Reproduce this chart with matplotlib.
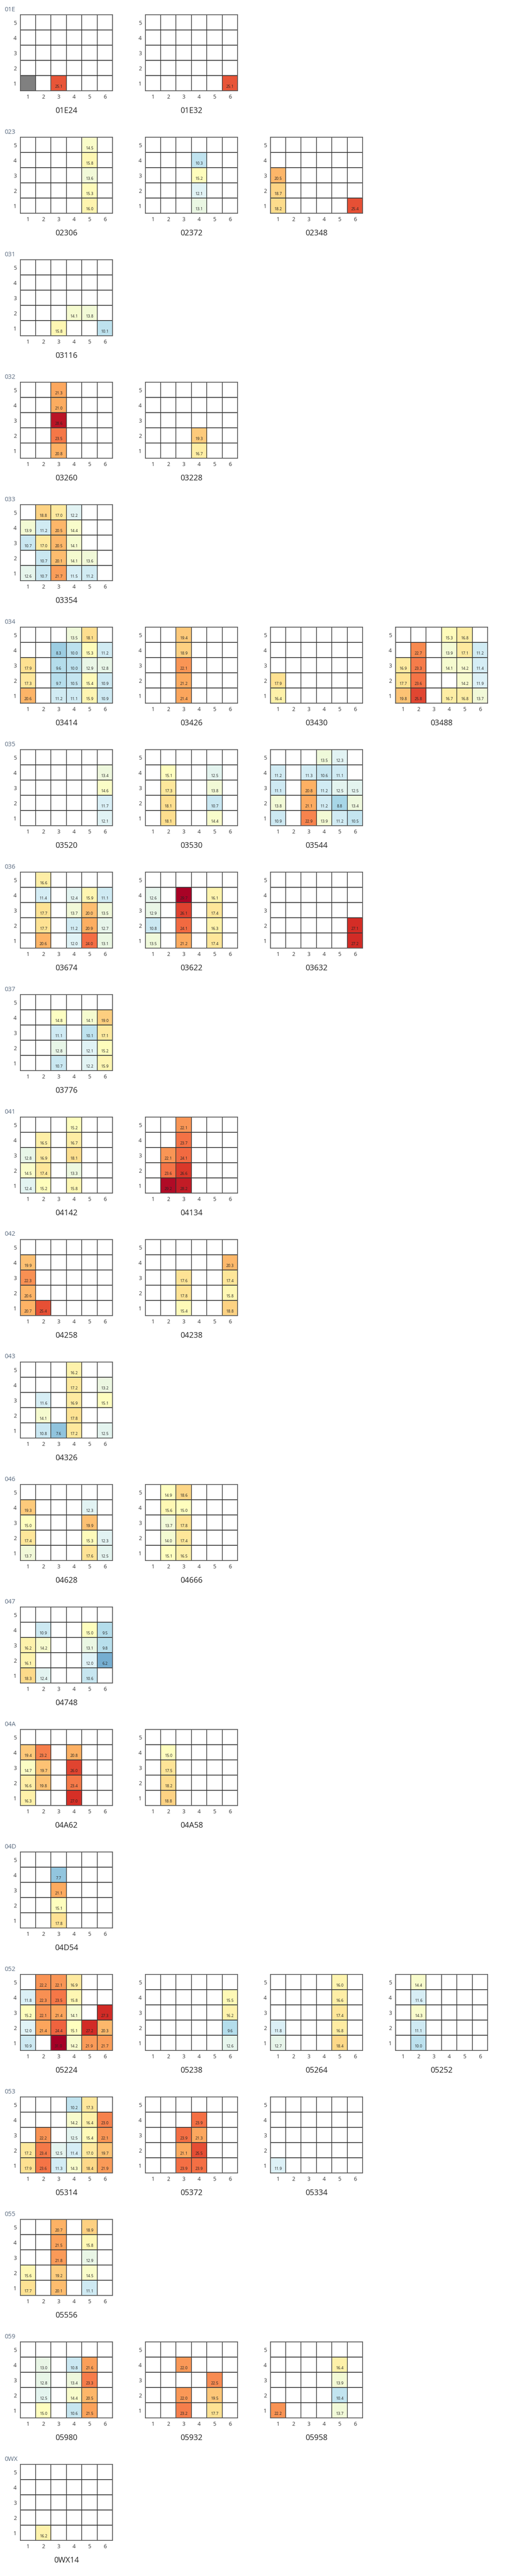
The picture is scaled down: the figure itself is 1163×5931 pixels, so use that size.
import numpy as np
import matplotlib.pyplot as plt
from matplotlib.colors import Normalize
from matplotlib.patches import Rectangle

plt.rcParams['font.family'] = ['Open Sans', 'DejaVu Sans']

_ = np.nan
E = [_] * 6

# group codes and the panels in each group
groups = ['01E', '023', '031', '032', '033', '034', '035', '036', '037', '041', '042',
          '043', '046', '047', '04A', '04D', '052', '053', '055', '059', '0WX']
panels = [
    ['01E24', '01E32'],
    ['02306', '02372', '02348'],
    ['03116'],
    ['03260', '03228'],
    ['03354'],
    ['03414', '03426', '03430', '03488'],
    ['03520', '03530', '03544'],
    ['03674', '03622', '03632'],
    ['03776'],
    ['04142', '04134'],
    ['04258', '04238'],
    ['04326'],
    ['04628', '04666'],
    ['04748'],
    ['04A62', '04A58'],
    ['04D54'],
    ['05224', '05238', '05264', '05252'],
    ['05314', '05372', '05334'],
    ['05556'],
    ['05980', '05932', '05958'],
    ['0WX14'],
]

# cell values per panel, rows 5 (top) down to 1, columns 1..6
v_01E24 = [E, E, E, E, [_, _, 25.1, _, _, _]]
v_01E32 = [E, E, E, E, [_, _, _, _, _, 25.1]]
v_02306 = [[_, _, _, _, 14.5, _], [_, _, _, _, 15.8, _], [_, _, _, _, 13.6, _],
           [_, _, _, _, 15.3, _], [_, _, _, _, 16.0, _]]
v_02372 = [E, [_, _, _, 10.3, _, _], [_, _, _, 15.2, _, _],
           [_, _, _, 12.1, _, _], [_, _, _, 13.1, _, _]]
v_02348 = [E, E, [20.5, _, _, _, _, _], [18.7, _, _, _, _, _], [18.2, _, _, _, _, 25.4]]
v_03116 = [E, E, E, [_, _, _, 14.1, 13.8, _], [_, _, 15.8, _, _, 10.1]]
v_03260 = [[_, _, 21.3, _, _, _], [_, _, 21.0, _, _, _], [_, _, 28.6, _, _, _],
           [_, _, 23.5, _, _, _], [_, _, 20.8, _, _, _]]
v_03228 = [E, E, E, [_, _, _, 19.3, _, _], [_, _, _, 16.7, _, _]]
v_03354 = [[_, 18.8, 17.0, 12.2, _, _],
           [13.9, 11.2, 20.5, 14.4, _, _],
           [10.7, 17.0, 20.5, 14.1, _, _],
           [_, 10.7, 20.1, 14.1, 13.6, _],
           [12.6, 10.7, 21.7, 11.5, 11.2, _]]
v_03414 = [[_, _, _, 13.5, 18.1, _],
           [_, _, 8.3, 10.0, 15.3, 11.2],
           [17.9, _, 9.6, 10.0, 12.9, 12.8],
           [17.3, _, 9.7, 10.5, 15.4, 10.9],
           [20.6, _, 11.2, 11.1, 15.9, 10.9]]
v_03426 = [[_, _, 19.4, _, _, _], [_, _, 18.9, _, _, _], [_, _, 22.1, _, _, _],
           [_, _, 21.2, _, _, _], [_, _, 21.4, _, _, _]]
v_03430 = [E, E, E, [17.9, _, _, _, _, _], [16.4, _, _, _, _, _]]
v_03488 = [[_, _, _, 15.3, 16.8, _],
           [_, 22.7, _, 13.9, 17.1, 11.2],
           [16.9, 23.3, _, 14.1, 14.2, 11.4],
           [17.7, 23.6, _, _, 14.2, 11.9],
           [19.8, 25.8, _, 16.7, 16.8, 13.7]]
v_03520 = [E, [_, _, _, _, _, 13.4], [_, _, _, _, _, 14.6],
           [_, _, _, _, _, 11.7], [_, _, _, _, _, 12.1]]
v_03530 = [E, [_, 15.1, _, _, 12.5, _], [_, 17.3, _, _, 13.8, _],
           [_, 18.1, _, _, 10.7, _], [_, 18.1, _, _, 14.4, _]]
v_03544 = [[_, _, _, 13.5, 12.3, _],
           [11.2, _, 11.3, 10.6, 11.1, _],
           [11.1, _, 20.8, 11.2, 12.5, 12.5],
           [13.8, _, 21.1, 11.2, 8.8, 13.4],
           [10.9, _, 22.9, 13.9, 11.2, 10.5]]
v_03674 = [[_, 16.6, _, _, _, _],
           [_, 11.4, _, 12.4, 15.9, 11.1],
           [_, 17.7, _, 13.7, 20.0, 13.5],
           [_, 17.7, _, 11.2, 20.9, 12.7],
           [_, 20.6, _, 12.0, 24.0, 13.1]]
v_03622 = [E,
           [12.6, _, 29.7, _, 16.1, _],
           [12.9, _, 26.1, _, 17.4, _],
           [10.8, _, 24.1, _, 16.3, _],
           [13.5, _, 21.2, _, 17.4, _]]
v_03632 = [E, E, E, [_, _, _, _, _, 27.1], [_, _, _, _, _, 27.2]]
v_03776 = [E,
           [_, _, 14.8, _, 14.1, 19.0],
           [_, _, 11.1, _, 10.1, 17.1],
           [_, _, 12.8, _, 12.1, 15.2],
           [_, _, 10.7, _, 12.2, 15.9]]
v_04142 = [[_, _, _, 15.2, _, _],
           [_, 16.5, _, 16.7, _, _],
           [12.8, 16.9, _, 18.1, _, _],
           [14.5, 17.4, _, 13.3, _, _],
           [12.4, 15.2, _, 15.8, _, _]]
v_04134 = [[_, _, 22.1, _, _, _],
           [_, _, 23.7, _, _, _],
           [_, 22.1, 24.1, _, _, _],
           [_, 23.6, 26.6, _, _, _],
           [_, 29.2, 28.2, _, _, _]]
v_04258 = [E, [19.9, _, _, _, _, _], [22.3, _, _, _, _, _],
           [20.6, _, _, _, _, _], [20.7, 25.4, _, _, _, _]]
v_04238 = [E, [_, _, _, _, _, 20.3], [_, _, 17.6, _, _, 17.4],
           [_, _, 17.8, _, _, 15.8], [_, _, 15.4, _, _, 18.8]]
v_04326 = [[_, _, _, 16.2, _, _],
           [_, _, _, 17.2, _, 13.2],
           [_, 11.6, _, 16.9, _, 15.1],
           [_, 14.1, _, 17.8, _, _],
           [_, 10.8, 7.6, 17.2, _, 12.5]]
v_04628 = [E,
           [19.3, _, _, _, 12.3, _],
           [15.0, _, _, _, 19.9, _],
           [17.4, _, _, _, 15.3, 12.3],
           [13.7, _, _, _, 17.6, 12.5]]
v_04666 = [[_, 14.9, 18.6, _, _, _],
           [_, 15.6, 15.0, _, _, _],
           [_, 13.7, 17.8, _, _, _],
           [_, 14.0, 17.4, _, _, _],
           [_, 15.1, 16.5, _, _, _]]
v_04748 = [E,
           [_, 10.9, _, _, 15.0, 9.5],
           [16.2, 14.2, _, _, 13.1, 9.8],
           [16.1, _, _, _, 12.0, 6.2],
           [18.3, 12.4, _, _, 10.6, _]]
v_04A62 = [E,
           [19.4, 23.2, _, 20.8, _, _],
           [14.7, 19.7, _, 26.0, _, _],
           [16.6, 19.8, _, 23.4, _, _],
           [16.3, _, _, 27.0, _, _]]
v_04A58 = [E, [_, 15.0, _, _, _, _], [_, 17.5, _, _, _, _],
           [_, 18.2, _, _, _, _], [_, 18.8, _, _, _, _]]
v_04D54 = [E, [_, _, 7.7, _, _, _], [_, _, 21.1, _, _, _],
           [_, _, 15.1, _, _, _], [_, _, 17.8, _, _, _]]
v_05224 = [[_, 22.2, 22.1, 16.9, _, _],
           [11.8, 22.3, 23.5, 15.8, _, _],
           [15.2, 22.1, 21.4, 14.1, _, 27.3],
           [12.0, 21.4, 24.4, 15.1, 27.2, 20.3],
           [10.9, _, 31.0, 14.2, 21.9, 21.7]]
v_05238 = [E, [_, _, _, _, _, 15.5], [_, _, _, _, _, 16.2],
           [_, _, _, _, _, 9.6], [_, _, _, _, _, 12.6]]
v_05264 = [[_, _, _, _, 16.0, _], [_, _, _, _, 16.6, _], [_, _, _, _, 17.4, _],
           [11.8, _, _, _, 16.8, _], [12.7, _, _, _, 18.4, _]]
v_05252 = [[_, 14.4, _, _, _, _], [_, 11.6, _, _, _, _], [_, 14.3, _, _, _, _],
           [_, 11.1, _, _, _, _], [_, 10.0, _, _, _, _]]
v_05314 = [[_, _, _, 10.2, 17.3, _],
           [_, _, _, 14.2, 16.4, 23.0],
           [_, 22.2, _, 12.5, 15.4, 22.1],
           [17.2, 23.4, 12.5, 11.4, 17.0, 19.7],
           [17.9, 23.6, 11.3, 14.3, 18.4, 21.9]]
v_05372 = [E,
           [_, _, _, 23.9, _, _],
           [_, _, 23.9, 21.3, _, _],
           [_, _, 21.1, 25.5, _, _],
           [_, _, 23.9, 23.9, _, _]]
v_05334 = [E, E, E, E, [11.9, _, _, _, _, _]]
v_05556 = [[_, _, 20.7, _, 18.9, _],
           [_, _, 21.5, _, 15.8, _],
           [_, _, 21.8, _, 12.9, _],
           [15.6, _, 19.2, _, 14.5, _],
           [17.7, _, 20.1, _, 11.1, _]]
v_05980 = [E,
           [_, 13.0, _, 10.8, 21.6, _],
           [_, 12.8, _, 13.4, 23.3, _],
           [_, 12.5, _, 14.4, 20.5, _],
           [_, 15.0, _, 10.6, 21.5, _]]
v_05932 = [E,
           [_, _, 22.0, _, _, _],
           [_, _, _, _, 22.5, _],
           [_, _, 22.0, _, 19.5, _],
           [_, _, 23.2, _, 17.7, _]]
v_05958 = [E,
           [_, _, _, _, 16.4, _],
           [_, _, _, _, 13.9, _],
           [_, _, _, _, 10.4, _],
           [22.2, _, _, _, 13.7, _]]
v_0WX14 = [E, E, E, E, [_, 16.2, _, _, _, _]]

# cells shown in grey without a value (panel, column, row)
grey_cells = [('01E24', 1, 1)]

values = {name[2:]: val for name, val in globals().items() if name.startswith('v_')}

W, H = 1163, 5931
fig = plt.figure(figsize=(W / 100, H / 100), dpi=100)
cmap = plt.get_cmap('RdYlBu_r').copy()
cmap.set_bad('white')
norm = Normalize(vmin=0, vmax=30)

step = 282
for k, (g, plist) in enumerate(zip(groups, panels)):
    y0 = step * k
    fig.text(10 / W, 1 - (y0 + 22) / H, g, ha='left', va='center',
             fontsize=10.5, color='#5a6b80')
    for j, p in enumerate(plist):
        left = 46.5 + 288 * j
        top = y0 + 34.3
        ax = fig.add_axes([left / W, 1 - (top + 175) / H, 212.7 / W, 175 / H])
        data = np.array(values[p], dtype=float)[::-1]
        ax.imshow(data, cmap=cmap, norm=norm, origin='lower',
                  extent=(0.5, 6.5, 0.5, 5.5), aspect='auto', interpolation='nearest')
        for (gp, c, r) in grey_cells:
            if gp == p:
                ax.add_patch(Rectangle((c - 0.5, r - 0.5), 1, 1, facecolor='#808080',
                                       edgecolor='none', zorder=1))
        ax.vlines(np.arange(1.5, 6.5), 0.5, 5.5, color='#333333', lw=1.1, zorder=2)
        ax.hlines(np.arange(1.5, 5.5), 0.5, 6.5, color='#333333', lw=1.3, zorder=2)
        for r in range(5):
            for c in range(6):
                v = data[r, c]
                if not np.isnan(v):
                    ax.text(c + 1, r + 1 - 0.23, f'{v:.1f}', ha='center', va='center',
                            fontsize=6.5, color='#222222', zorder=3)
        ax.set_xlim(0.5, 6.5)
        ax.set_ylim(0.5, 5.5)
        ax.set_xticks(range(1, 7))
        ax.set_yticks(range(1, 6))
        ax.tick_params(length=0, labelsize=9, labelcolor='#333333')
        ax.tick_params(axis='x', pad=5.5)
        ax.tick_params(axis='y', pad=6)
        for s in ax.spines.values():
            s.set_color('#555555')
            s.set_linewidth(1.3)
        ax.text(0.5, -0.263, p, transform=ax.transAxes, ha='center', va='center',
                fontsize=13, color='#222222')

fig.savefig('out.png', dpi=100)
